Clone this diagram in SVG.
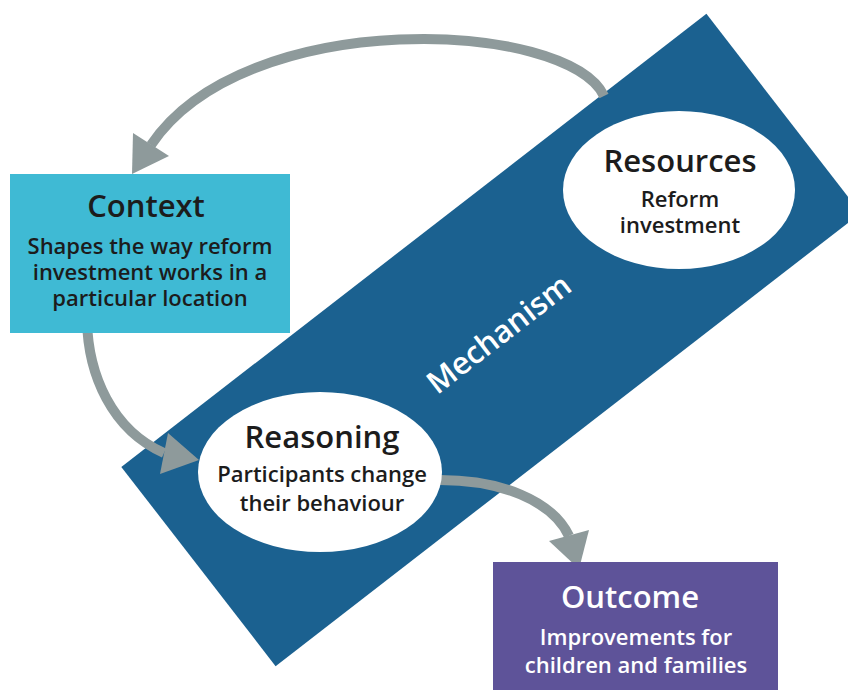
<svg xmlns="http://www.w3.org/2000/svg" width="848" height="690" viewBox="0 0 848 690">
<style>
.head{font-family:"Open Sans","Noto Sans","Liberation Sans",sans-serif;font-size:31px;font-weight:600;fill:#1c1c1c;text-anchor:middle}
.sub{font-family:"Open Sans","Noto Sans","Liberation Sans",sans-serif;font-size:22px;font-weight:600;fill:#1c1c1c;text-anchor:middle}
.light{fill:#ffffff}
.arrow{fill:none;stroke:#8E9A9B;stroke-width:10}
.head-tip{fill:#8E9A9B}
.oval{fill:#ffffff}
</style>
<rect width="848" height="690" fill="#ffffff"/>
<g id="mechanism">
<rect x="121" y="214" width="740" height="252" fill="#1B6190" transform="rotate(-37.75 491 340)"/>
<text x="498" y="345" class="head light" font-size="33" transform="rotate(-37.75 498 333)">Mechanism</text>
</g>
<g id="connectors">
<path class="arrow" d="M 604 96 C 568 20, 245 5, 151 145"/>
<polygon class="head-tip" points="132,174 133,133 169,156"/>
<path class="arrow" d="M 87 320 C 88 375, 112 430, 164 453"/>
<polygon class="head-tip" points="199,460 168,433 160,474"/>
<path class="arrow" d="M 440 480 C 500 480, 552 500, 569 536"/>
<polygon class="head-tip" points="579,569 549,541 589,530"/>
</g>
<g id="context">
<rect x="10" y="174" width="280" height="159" fill="#3FBAD4"/>
<text x="146" y="217" class="head">Context</text>
<text x="150" y="254" class="sub">Shapes the way reform</text>
<text x="150" y="280" class="sub">investment works in a</text>
<text x="150" y="306" class="sub">particular location</text>
</g>
<g id="resources">
<ellipse cx="679" cy="190" rx="116" ry="79" class="oval"/>
<text x="680" y="172" class="head">Resources</text>
<text x="680" y="207" class="sub">Reform</text>
<text x="680" y="233" class="sub">investment</text>
</g>
<g id="reasoning">
<ellipse cx="320" cy="472" rx="122" ry="80" class="oval"/>
<text x="322" y="448" class="head">Reasoning</text>
<text x="322" y="482" class="sub">Participants change</text>
<text x="322" y="511" class="sub">their behaviour</text>
</g>
<g id="outcome">
<rect x="493" y="562" width="285" height="130" fill="#5E5399"/>
<text x="630" y="608" class="head light">Outcome</text>
<text x="636" y="645" class="sub light">Improvements for</text>
<text x="636" y="673" class="sub light">children and families</text>
</g>
</svg>
